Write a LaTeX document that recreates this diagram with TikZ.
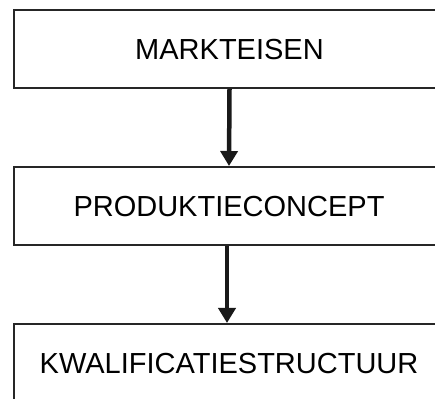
\documentclass[tikz,border=0pt]{standalone}
\usepackage{fontspec}
\setmainfont{Liberation Sans}
\usetikzlibrary{arrows.meta}
\begin{document}
\begin{tikzpicture}[x=1pt,y=1pt,
  stagebox/.style={draw=black!85, line width=2pt, fill=white,
    minimum width=431pt, minimum height=78pt, inner sep=0pt,
    text height=21pt, text depth=0pt,
    font=\fontsize{29}{34}\selectfont},
  flow/.style={draw=black!90, line width=4.5pt,
    -{Triangle[width=17pt,length=15pt]}, shorten >=0pt}
]
\useasboundingbox (0,0) rectangle (435,398);
\clip (0,0) rectangle (435,398);
\fill[white] (0,0) rectangle (435,398);

% the three stages of the chain
\node[stagebox] (markt) at (229.5,349) {MARKTEISEN};
\node[stagebox] (prod)  at (229,192)   {PRODUKTIECONCEPT};
\node[stagebox, minimum height=77pt] (kwal) at (229,35.5) {KWALIFICATIESTRUCTUUR};

% downward links between the stages
\draw[flow] (markt.south) -- (prod.north);
\draw[flow] (prod.south -| 227,0) -- (kwal.north -| 227,0);
\end{tikzpicture}
\end{document}
